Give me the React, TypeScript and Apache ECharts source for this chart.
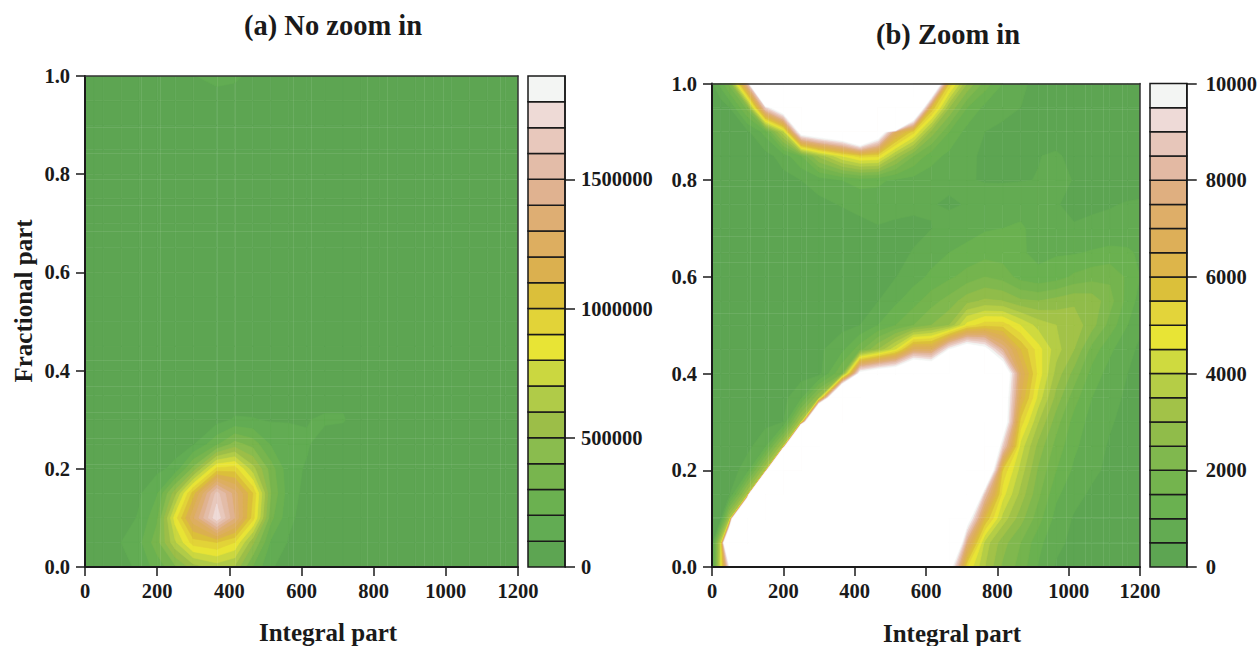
import React, { useEffect, useRef } from "react";
import * as echarts from "echarts";

const xNodes = [0, 25, 50, 100, 150, 200, 250, 300, 365, 415, 465, 515, 565, 615, 665, 715, 765, 815, 865, 915, 965, 1015, 1065, 1115, 1165, 1200];
const yNodes = [0, 0.05, 0.1, 0.15, 0.2, 0.25, 0.3, 0.35, 0.4, 0.45, 0.5, 0.55, 0.6, 0.65, 0.7, 0.75, 0.8, 0.85, 0.9, 0.95, 1];

const row00 = [200, 4500, 10000, 50000, 130000, 240000, 380000, 550000, 640000, 580000, 290000, 110000, 60000, 35000, 11000, 5000, 3500, 2400, 1800, 950, 450, 350, 300, 280, 250, 230];
const row05 = [300, 4000, 22000, 100000, 170000, 360000, 680000, 950000, 1000000, 900000, 520000, 180000, 90000, 45000, 16000, 7500, 3800, 2700, 2000, 1150, 600, 400, 350, 300, 280, 260];
const row10 = [200, 500, 3500, 50000, 110000, 280000, 850000, 1280000, 1780000, 1400000, 950000, 330000, 120000, 60000, 24000, 11000, 6000, 3800, 2700, 1700, 800, 450, 350, 300, 270, 250];
const row15 = [150, 200, 500, 3500, 85000, 190000, 560000, 1050000, 1640000, 1350000, 1000000, 400000, 140000, 70000, 30000, 17000, 8500, 4700, 3300, 2100, 1100, 650, 420, 330, 280, 260];
const row20 = [120, 140, 200, 800, 3500, 75000, 125000, 430000, 930000, 950000, 640000, 350000, 130000, 90000, 40000, 24000, 14000, 5400, 3800, 2400, 1500, 900, 600, 400, 300, 260];
const row25 = [100, 110, 140, 350, 900, 3500, 60000, 90000, 280000, 440000, 360000, 190000, 130000, 110000, 50000, 30000, 15000, 9000, 4300, 2800, 1800, 1100, 700, 450, 320, 280];
const row30 = [80, 90, 110, 170, 350, 500, 3500, 30000, 60000, 110000, 105000, 90000, 95000, 95000, 115000, 110000, 40000, 11500, 5300, 3500, 2200, 1300, 800, 550, 350, 300];
const row35 = [70, 80, 95, 130, 190, 350, 900, 3000, 20000, 45000, 50000, 50000, 50000, 50000, 55000, 70000, 45000, 11500, 6500, 4300, 2800, 1700, 1000, 650, 420, 340];
const row40 = [65, 72, 85, 110, 160, 220, 300, 300, 2000, 10500, 11500, 12000, 14000, 13000, 30000, 35000, 30000, 12000, 7000, 4800, 3300, 2300, 1300, 800, 500, 350];
const row45 = [60, 68, 78, 95, 120, 160, 220, 400, 850, 1800, 3000, 4400, 7000, 7000, 9900, 11500, 10500, 8000, 6000, 4700, 3700, 3000, 1800, 1100, 650, 400];
const row50 = [50, 58, 65, 78, 95, 120, 160, 200, 350, 500, 1000, 1500, 2000, 2500, 3000, 4700, 5300, 5300, 4500, 3800, 3500, 3300, 2700, 1800, 1000, 600];
const row55 = [45, 50, 58, 68, 80, 95, 125, 160, 220, 350, 480, 900, 1300, 1800, 2200, 2800, 3100, 3000, 2600, 2500, 2700, 2900, 2800, 2200, 1300, 800];
const row60 = [45, 50, 54, 62, 72, 82, 95, 115, 150, 200, 300, 480, 800, 1100, 1400, 1700, 2000, 1800, 1300, 1100, 1250, 1600, 1800, 1900, 1400, 1000];
const row65 = [45, 50, 53, 58, 68, 78, 90, 105, 140, 170, 220, 350, 530, 800, 1000, 1150, 1300, 1250, 1050, 900, 950, 950, 1050, 1150, 1100, 900];
const row70 = [40, 45, 50, 58, 70, 85, 110, 160, 250, 350, 450, 400, 380, 490, 650, 800, 950, 1000, 1080, 800, 700, 530, 600, 620, 640, 620];
const row75 = [40, 48, 55, 75, 115, 170, 270, 380, 530, 640, 750, 650, 600, 520, 450, 520, 650, 700, 800, 680, 520, 420, 420, 470, 530, 560];
const row80 = [45, 52, 70, 115, 210, 340, 500, 700, 1000, 1200, 1100, 900, 800, 720, 580, 520, 480, 470, 480, 510, 560, 490, 400, 350, 300, 280];
const row85 = [45, 55, 75, 150, 320, 700, 1500, 3100, 4500, 5200, 5100, 3300, 2000, 1200, 850, 580, 430, 400, 430, 490, 540, 420, 350, 300, 260, 240];
const row90 = [50, 75, 130, 400, 1200, 3800, 11000, 12000, 13000, 16000, 12000, 7000, 5200, 2800, 1500, 800, 500, 420, 400, 380, 350, 320, 300, 280, 250, 230];
const row95 = [60, 130, 500, 2200, 9000, 12000, 60000, 80000, 80000, 80000, 70000, 50000, 15000, 6000, 3000, 1500, 850, 600, 500, 430, 350, 320, 300, 280, 260, 240];
const row100 = [450, 1200, 2200, 8500, 25000, 50000, 75000, 98000, 115000, 108000, 88000, 60000, 35000, 15000, 5500, 3000, 1800, 1000, 540, 440, 400, 350, 320, 300, 280, 260];
const zRows = [row00, row05, row10, row15, row20, row25, row30, row35, row40, row45, row50, row55, row60, row65, row70, row75, row80, row85, row90, row95, row100];

const levelsA = [0, 100000, 200000, 300000, 400000, 500000, 600000, 700000, 800000, 900000, 1000000, 1100000, 1200000, 1300000, 1400000, 1500000, 1600000, 1700000, 1800000, 1900000];
const levelsB = [0, 500, 1000, 1500, 2000, 2500, 3000, 3500, 4000, 4500, 5000, 5500, 6000, 6500, 7000, 7500, 8000, 8500, 9000, 9500, 10000];
const colorsA = ["#5da552", "#62ac53", "#6bb150", "#78b54e", "#8abc4e", "#9cbe48", "#b0cb48", "#cbd740", "#e8e435", "#e2d338", "#dbbf3a", "#dbb04f", "#ddae60", "#deae73", "#e0b290", "#e3bca8", "#e8c8bc", "#eedad6", "#f3f5f3"];
const colorsB = ["#5da552", "#63ab52", "#6ab150", "#74b44e", "#80b84e", "#90bc4a", "#a2c248", "#b5cd46", "#cfda3f", "#e8e435", "#e3d43a", "#dbc03a", "#ddb54a", "#ddaf58", "#deae68", "#dfaf80", "#e3b9a3", "#e7c6ba", "#eedad7", "#f3f5f3"];

const xTicks = [0, 200, 400, 600, 800, 1000, 1200];
const yTicks = [0, 0.2, 0.4, 0.6, 0.8, 1];
const barTicksA = [0, 500000, 1000000, 1500000];
const barTicksB = [0, 2000, 4000, 6000, 8000, 10000];

const seamXA = [155, 208, 366, 416, 576, 626, 781, 837, 939, 992, 1150];
const seamYA = [0.21, 0.263, 0.316, 0.369, 0.422, 0.684, 0.737, 0.79, 0.843, 0.896];
const seamXB = [107, 157, 210, 264, 314, 368, 418, 468, 939, 992, 1046, 1096, 1150];
const seamYB = [0.05, 0.103, 0.209, 0.368, 0.525, 0.631, 0.685, 0.788, 0.947];

const FONT = "Liberation Serif";
const INK = "#1a1a1a";

function clipAt(corners: number[][], level: number) {
  const out: number[][] = [];
  for (let k = 0; k < 4; k++) {
    const a = corners[k];
    const b = corners[(k + 1) % 4];
    const ina = a[2] >= level;
    const inb = b[2] >= level;
    if (ina) out.push([a[0], a[1]]);
    if (ina !== inb) {
      const t = (level - a[2]) / (b[2] - a[2]);
      out.push([a[0] + (b[0] - a[0]) * t, a[1] + (b[1] - a[1]) * t]);
    }
  }
  return out;
}

function contourSeries(xIdx: number, yIdx: number, levels: number[], colors: string[]) {
  return {
    type: "custom",
    xAxisIndex: xIdx,
    yAxisIndex: yIdx,
    silent: true,
    clip: true,
    z: 2,
    encode: { x: 0, y: 1 },
    data: levels.map((_, k) => [0, 0, k]),
    renderItem: (_p: any, api: any) => {
      const k = api.value(2);
      const fill = k < colors.length ? colors[k] : "#ffffff";
      const children: any[] = [];
      for (let j = 0; j < yNodes.length - 1; j++) {
        for (let i = 0; i < xNodes.length - 1; i++) {
          const corners = [
            [xNodes[i], yNodes[j], zRows[j][i]],
            [xNodes[i + 1], yNodes[j], zRows[j][i + 1]],
            [xNodes[i + 1], yNodes[j + 1], zRows[j + 1][i + 1]],
            [xNodes[i], yNodes[j + 1], zRows[j + 1][i]],
          ];
          const zs = corners.map((c) => c[2]);
          if (Math.max(...zs) < levels[k]) continue;
          if (k + 1 < levels.length && Math.min(...zs) >= levels[k + 1]) continue;
          const poly = clipAt(corners, levels[k]);
          if (poly.length < 3) continue;
          children.push({
            type: "polygon",
            shape: { points: poly.map((p) => api.coord(p)) },
            style: { fill, stroke: fill, lineWidth: 0.6 },
          });
        }
      }
      return { type: "group", children };
    },
  };
}

function seamSeries(xIdx: number, yIdx: number, sx: number[], sy: number[]) {
  const data = [...sx.map((v) => [v, 0, 0]), ...sy.map((v) => [0, v, 1])];
  return {
    type: "custom",
    xAxisIndex: xIdx,
    yAxisIndex: yIdx,
    silent: true,
    z: 3,
    encode: { x: 0, y: 1 },
    data,
    renderItem: (_p: any, api: any) => {
      const vertical = api.value(2) === 0;
      const a = vertical ? api.coord([api.value(0), 0]) : api.coord([0, api.value(1)]);
      const b = vertical ? api.coord([api.value(0), 1]) : api.coord([1200, api.value(1)]);
      const snap = (n: number) => Math.round(n) + 0.5;
      return {
        type: "line",
        shape: vertical
          ? { x1: snap(a[0]), y1: a[1], x2: snap(a[0]), y2: b[1] }
          : { x1: a[0], y1: snap(a[1]), x2: b[0], y2: snap(a[1]) },
        style: { stroke: "rgba(255,255,255,0.09)", lineWidth: 1 },
      };
    },
  };
}

function barSeries(xIdx: number, yIdx: number, levels: number[], colors: string[]) {
  return {
    type: "custom",
    xAxisIndex: xIdx,
    yAxisIndex: yIdx,
    silent: true,
    z: 2,
    clip: false,
    encode: { x: 0, y: 1 },
    data: colors.map((_, k) => [0, levels[k], levels[k + 1], k]),
    renderItem: (_p: any, api: any) => {
      const p0 = api.coord([0, api.value(1)]);
      const p1 = api.coord([1, api.value(2)]);
      return {
        type: "rect",
        shape: { x: p0[0], y: p1[1], width: p1[0] - p0[0], height: p0[1] - p1[1] },
        style: { fill: colors[api.value(3)], stroke: INK, lineWidth: 1.5 },
      };
    },
  };
}

const tickLabel = { fontFamily: FONT, fontWeight: "bold" as const, fontSize: 20.5, color: INK };

function bottomAxis(grid: number) {
  return {
    type: "value", gridIndex: grid, min: 0, max: 1200, interval: 200, position: "bottom", z: 5,
    axisLine: { show: true, onZero: false, lineStyle: { color: INK, width: 2 } },
    axisTick: { show: true, length: 9, lineStyle: { color: INK, width: 1.5 } },
    axisLabel: { ...tickLabel, margin: 13, customValues: xTicks, formatter: (v: number) => String(v) },
    splitLine: { show: false },
  };
}
function leftAxis(grid: number) {
  return {
    type: "value", gridIndex: grid, min: 0, max: 1, interval: 0.2, position: "left", z: 5,
    axisLine: { show: true, onZero: false, lineStyle: { color: INK, width: 2 } },
    axisTick: { show: true, length: 9, lineStyle: { color: INK, width: 1.5 } },
    axisLabel: { ...tickLabel, margin: 15, customValues: yTicks, formatter: (v: number) => v.toFixed(1) },
    splitLine: { show: false },
  };
}
function frameX(grid: number) {
  return {
    type: "value", gridIndex: grid, min: 0, max: 1200, position: "top", z: 5,
    axisLine: { show: true, onZero: false, lineStyle: { color: "#333", width: 1.5 } },
    axisTick: { show: false }, axisLabel: { show: false }, splitLine: { show: false },
  };
}
function frameY(grid: number) {
  return {
    type: "value", gridIndex: grid, min: 0, max: 1, position: "right", z: 5,
    axisLine: { show: true, onZero: false, lineStyle: { color: "#333", width: 1.5 } },
    axisTick: { show: false }, axisLabel: { show: false }, splitLine: { show: false },
  };
}
function barX(grid: number) {
  return { type: "value", gridIndex: grid, min: 0, max: 1, show: false };
}
function barY(grid: number, max: number, ticks: number[], margin: number) {
  return {
    type: "value", gridIndex: grid, min: 0, max, position: "right", z: 5,
    axisLine: { show: true, onZero: false, lineStyle: { color: INK, width: 1.5 } },
    axisTick: { show: true, length: 10, customValues: ticks, lineStyle: { color: INK, width: 1.5 } },
    axisLabel: { ...tickLabel, margin, customValues: ticks, formatter: (v: number) => String(v) },
    splitLine: { show: false },
  };
}

function caption(text: string, x: number, y: number, size: number, rotation = 0) {
  return {
    type: "text", x, y, rotation, z: 10, silent: true,
    style: { text, fill: INK, font: `bold ${size}px "${FONT}"`, align: "center", verticalAlign: "middle" },
  };
}

export default function App() {
  const ref = useRef<HTMLDivElement>(null);
  useEffect(() => {
    document.body.style.margin = "0";
    const chart = echarts.init(ref.current!, undefined, { renderer: "svg" });
    chart.setOption({
      animation: false,
      backgroundColor: "#ffffff",
      grid: [
        { left: 85, top: 76, width: 433, height: 491 },
        { left: 712, top: 83.5, width: 428, height: 483.5 },
        { left: 528, top: 76, width: 37, height: 491 },
        { left: 1150, top: 83.5, width: 37, height: 483.5 },
      ],
      xAxis: [bottomAxis(0), frameX(0), bottomAxis(1), frameX(1), barX(2), barX(3)],
      yAxis: [leftAxis(0), frameY(0), leftAxis(1), frameY(1), barY(2, 1900000, barTicksA, 16), barY(3, 10000, barTicksB, 19)],
      series: [
        contourSeries(0, 0, levelsA, colorsA),
        seamSeries(0, 0, seamXA, seamYA),
        contourSeries(2, 2, levelsB, colorsB),
        seamSeries(2, 2, seamXB, seamYB),
        barSeries(4, 4, levelsA, colorsA),
        barSeries(5, 5, levelsB, colorsB),
      ],
      graphic: [
        caption("(a) No zoom in", 333, 25, 28.5),
        caption("(b) Zoom in", 948, 34, 28.5),
        caption("Integral part", 328, 632, 25),
        caption("Integral part", 952, 633, 25),
        caption("Fractional part", 23, 301, 25, Math.PI / 2),
      ],
    });
    return () => chart.dispose();
  }, []);
  return <div ref={ref} style={{ width: 1260, height: 646 }} />;
}
